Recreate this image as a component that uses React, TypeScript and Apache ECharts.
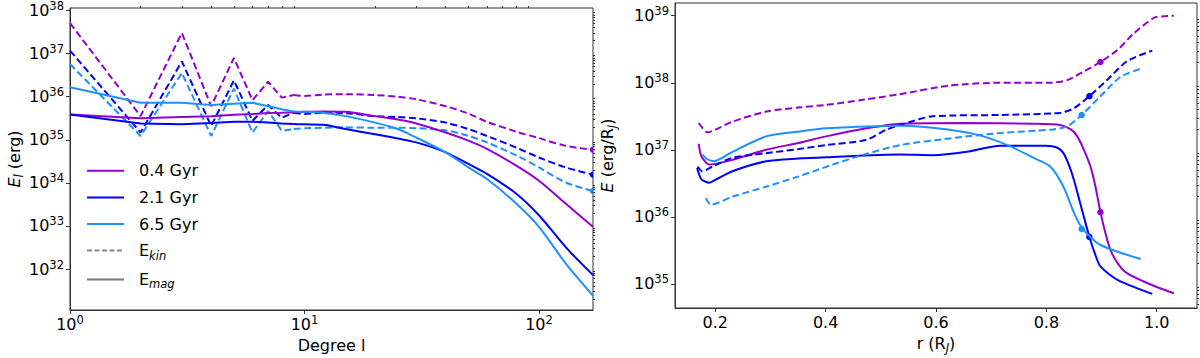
import React, { useEffect, useRef } from 'react';
import * as echarts from 'echarts';

const FONT = 'DejaVu Sans';
const ages = ['0.4 Gyr', '2.1 Gyr', '6.5 Gyr'];
const colors = ['#9400d3', '#0000ff', '#1e90ff'];

// ---- left panel: energy per degree l (values as log10 exponents) ----
const degrees = [1, 2, 3, 4, 5, 6, 7, 8, 9, 10, 12, 15, 20, 25, 30, 40, 50, 60, 80, 100, 130, 170];
const kinL04 = [37.71, 35.55, 37.48, 35.78, 36.90, 35.92, 36.35, 35.98, 36.04, 36.02, 36.05, 36.06, 36.04, 36.00, 35.94, 35.78, 35.61, 35.42, 35.19, 35.04, 34.86, 34.77];
const kinL21 = [37.07, 35.17, 36.82, 35.32, 36.38, 35.44, 35.81, 35.51, 35.63, 35.60, 35.63, 35.62, 35.55, 35.53, 35.50, 35.40, 35.25, 35.09, 34.82, 34.59, 34.36, 34.19];
const kinL65 = [36.76, 35.09, 36.55, 35.09, 36.19, 35.17, 35.67, 35.21, 35.25, 35.27, 35.28, 35.29, 35.28, 35.28, 35.27, 35.22, 35.09, 34.94, 34.64, 34.36, 34.01, 33.81];
const magL04 = [35.59, 35.50, 35.53, 35.55, 35.58, 35.60, 35.62, 35.63, 35.64, 35.65, 35.66, 35.65, 35.55, 35.47, 35.38, 35.17, 34.98, 34.79, 34.40, 34.05, 33.52, 32.98];
const magL21 = [35.59, 35.38, 35.36, 35.39, 35.42, 35.42, 35.40, 35.38, 35.37, 35.36, 35.35, 35.25, 35.13, 35.03, 34.94, 34.71, 34.44, 34.21, 33.75, 33.25, 32.51, 31.86];
const magL65 = [36.22, 35.86, 35.86, 35.81, 35.84, 35.86, 35.78, 35.71, 35.66, 35.65, 35.63, 35.55, 35.40, 35.25, 35.05, 34.71, 34.36, 34.09, 33.52, 32.98, 32.13, 31.38];

// ---- right panel: energy per radius r (r, log10 exponent) ----
const kinR04 = [[0.17, 37.40], [0.186, 37.26], [0.20, 37.30], [0.231, 37.42], [0.292, 37.57], [0.35, 37.63], [0.401, 37.67], [0.47, 37.75], [0.535, 37.83], [0.625, 37.96], [0.716, 38.0], [0.807, 38.0], [0.838, 38.04], [0.868, 38.17], [0.898, 38.31], [0.929, 38.49], [0.959, 38.74], [0.995, 38.97], [1.01, 38.99], [1.031, 39.0]];
const kinR21 = [[0.168, 36.75], [0.176, 36.68], [0.195, 36.75], [0.231, 36.88], [0.292, 36.95], [0.35, 37.01], [0.401, 37.07], [0.474, 37.15], [0.51, 37.30], [0.535, 37.37], [0.594, 37.50], [0.716, 37.52], [0.825, 37.55], [0.85, 37.62], [0.878, 37.80], [0.91, 38.04], [0.946, 38.32], [0.992, 38.48]];
const kinR65 = [[0.183, 36.28], [0.192, 36.18], [0.231, 36.30], [0.292, 36.45], [0.35, 36.60], [0.413, 36.78], [0.47, 36.93], [0.535, 37.07], [0.625, 37.17], [0.716, 37.25], [0.807, 37.30], [0.838, 37.35], [0.864, 37.52], [0.898, 37.80], [0.935, 38.09], [0.971, 38.21]];
const magR04 = [[0.17, 37.09], [0.175, 36.90], [0.189, 36.78], [0.2, 36.79], [0.231, 36.85], [0.292, 37.0], [0.35, 37.10], [0.401, 37.20], [0.474, 37.32], [0.535, 37.39], [0.656, 37.40], [0.777, 37.39], [0.825, 37.37], [0.845, 37.30], [0.856, 37.20], [0.868, 37.0], [0.88, 36.75], [0.889, 36.45], [0.898, 36.07], [0.907, 35.76], [0.916, 35.51], [0.929, 35.31], [0.946, 35.16], [0.989, 34.99], [1.031, 34.86]];
const magR21 = [[0.167, 36.73], [0.175, 36.56], [0.189, 36.51], [0.2, 36.55], [0.231, 36.68], [0.292, 36.83], [0.35, 36.87], [0.401, 36.89], [0.535, 36.93], [0.594, 36.92], [0.656, 36.97], [0.716, 37.06], [0.8, 37.06], [0.82, 37.03], [0.831, 36.95], [0.842, 36.75], [0.85, 36.55], [0.866, 36.06], [0.878, 35.70], [0.888, 35.45], [0.898, 35.26], [0.929, 35.06], [0.992, 34.85]];
const magR65 = [[0.177, 36.93], [0.185, 36.86], [0.198, 36.83], [0.231, 36.97], [0.292, 37.20], [0.35, 37.27], [0.401, 37.32], [0.535, 37.36], [0.625, 37.30], [0.686, 37.20], [0.735, 37.05], [0.777, 36.88], [0.807, 36.75], [0.831, 36.45], [0.85, 36.06], [0.866, 35.82], [0.898, 35.58], [0.971, 35.37]];

// marked points on the right panel
const dotR = [0.898, 0.878, 0.864];
const dotKinExp = [38.31, 37.80, 37.52];
const dotMagExp = [36.07, 35.70, 35.82];

// tick labels
const leftXTicks = [1, 10, 100];
const leftYTicksExp = [32, 33, 34, 35, 36, 37, 38];
const rightXTicks = [0.2, 0.4, 0.6, 0.8, 1.0];
const rightYTicksExp = [35, 36, 37, 38, 39];

const kinLeft = [kinL04, kinL21, kinL65];
const magLeft = [magL04, magL21, magL65];
const kinRight = [kinR04, kinR21, kinR65];
const magRight = [magR04, magR21, magR65];

// index where the low-degree zig-zag part ends (l = 9)
const SPLIT = 8;

const p10 = (e: number) => Math.pow(10, e);
const minorList = (e0: number, e1: number) => {
  const out: number[] = [];
  for (let e = e0; e <= e1; e++) for (let m = 2; m <= 9; m++) out.push(m * Math.pow(10, e));
  return out;
};

const supLabel = (v: number) => {
  const e = Math.log10(v);
  const r = Math.round(e);
  if (Math.abs(e - r) > 1e-6) return '';
  return `{b|10}{s|${r}}`;
};
const supRich = {
  b: { fontSize: 16, fontFamily: FONT, color: '#000', lineHeight: 21 },
  s: { fontSize: 11.5, fontFamily: FONT, color: '#000', lineHeight: 9, verticalAlign: 'top' },
};
const nameRich = {
  i: { fontSize: 16, fontFamily: FONT, color: '#000', fontStyle: 'italic', lineHeight: 22 },
  n: { fontSize: 16, fontFamily: FONT, color: '#000', lineHeight: 22 },
  sub: { fontSize: 11.5, fontFamily: FONT, color: '#000', fontStyle: 'italic', lineHeight: 12, verticalAlign: 'bottom' },
};

const AX = '#333';
const DASH = [7, 3.5];

function buildOption() {
  const frame = { show: true, borderColor: AX, borderWidth: 1, backgroundColor: 'transparent', outerBoundsMode: 'none', containLabel: false };
  const mainAxisCommon = {
    axisLine: { show: true, lineStyle: { color: AX, width: 1 } },
    splitLine: { show: false },
  };
  const minorAxis = (gridIndex: number, type: string, min: number, max: number, values: number[]) => ({
    gridIndex, type, min, max, logBase: 10,
    axisLine: { show: false },
    axisLabel: { show: false },
    splitLine: { show: false },
    axisTick: { show: true, length: 2, lineStyle: { color: AX }, customValues: values },
  });
  const hiddenSym = { opacity: 0 };

  const series: any[] = [];
  const leftLine = (name: string, exps: number[], color: string, dashed: boolean) => {
    const pts = degrees.map((d, k) => [d, p10(exps[k])]);
    const ls: any = { color, width: 2 };
    if (dashed) ls.type = DASH;
    series.push({
      name, type: 'line', xAxisIndex: 0, yAxisIndex: 0, symbol: 'none',
      data: pts.slice(0, SPLIT + 1), lineStyle: ls, itemStyle: { color, ...hiddenSym },
    });
    series.push({
      name: name + ' tail', type: 'line', xAxisIndex: 0, yAxisIndex: 0, symbol: 'none', smooth: 0.3,
      data: pts.slice(SPLIT), lineStyle: ls, itemStyle: { color, ...hiddenSym },
    });
  };
  ages.forEach((age, i) => leftLine(`${age} kin L`, kinLeft[i], colors[i], true));
  ages.forEach((age, i) => leftLine(age, magLeft[i], colors[i], false));
  series.push({
    name: 'end markers', type: 'custom', xAxisIndex: 0, yAxisIndex: 0, clip: true,
    data: ages.map((_, i) => [degrees[degrees.length - 1], p10(kinLeft[i][kinLeft[i].length - 1]), i]),
    renderItem: (params: any, api: any) => {
      const p = api.coord([api.value(0), api.value(1)]);
      return { type: 'circle', shape: { cx: p[0], cy: p[1], r: 3.2 }, style: { fill: colors[api.value(2)] } };
    },
  });
  ages.forEach((age, i) => {
    series.push({
      name: `${age} kin R`, type: 'line', xAxisIndex: 2, yAxisIndex: 2, symbol: 'none', smooth: 0.25,
      data: kinRight[i].map(([r, e]) => [r, p10(e)]),
      lineStyle: { color: colors[i], width: 2, type: DASH }, itemStyle: { color: colors[i], ...hiddenSym },
    });
    series.push({
      name: `${age} mag R`, type: 'line', xAxisIndex: 2, yAxisIndex: 2, symbol: 'none', smooth: 0.25,
      data: magRight[i].map(([r, e]) => [r, p10(e)]),
      lineStyle: { color: colors[i], width: 2 }, itemStyle: { color: colors[i], ...hiddenSym },
    });
    series.push({
      name: `${age} dots`, type: 'scatter', xAxisIndex: 2, yAxisIndex: 2, symbolSize: 6.5,
      data: [[dotR[i], p10(dotKinExp[i])], [dotR[i], p10(dotMagExp[i])]],
      itemStyle: { color: colors[i], opacity: 1 },
    });
  });
  series.push({
    name: 'Ekin', type: 'line', xAxisIndex: 0, yAxisIndex: 0, symbol: 'none', data: [],
    lineStyle: { color: '#888', width: 1.5, type: [5, 2.5] }, itemStyle: { color: '#888', ...hiddenSym },
  });
  series.push({
    name: 'Emag', type: 'line', xAxisIndex: 0, yAxisIndex: 0, symbol: 'none', data: [],
    lineStyle: { color: '#777', width: 1.5 }, itemStyle: { color: '#777', ...hiddenSym },
  });

  return {
    animation: false,
    textStyle: { fontFamily: FONT },
    grid: [
      { left: 70, top: 8, width: 523, height: 302, ...frame },
      { left: 675, top: 3, width: 522, height: 305, ...frame },
    ],
    legend: {
      data: [...ages, 'Ekin', 'Emag'],
      orient: 'vertical', left: 86, top: 162, padding: 0,
      itemWidth: 37, itemHeight: 22, itemGap: 9, selectedMode: false,
      itemStyle: { opacity: 0 },
      formatter: (name: string) =>
        name === 'Ekin' ? '{n|E}{sub|kin}' : name === 'Emag' ? '{n|E}{sub|mag}' : `{n|${name}}`,
      textStyle: {
        fontSize: 16, fontFamily: FONT, color: '#000', padding: [0, 0, 0, 10],
        rich: {
          n: { fontSize: 16, fontFamily: FONT, color: '#000', lineHeight: 22 },
          sub: { fontSize: 11.5, fontFamily: FONT, color: '#000', fontStyle: 'italic', lineHeight: 12, verticalAlign: 'bottom' },
        },
      },
    },
    xAxis: [
      {
        gridIndex: 0, type: 'log', logBase: 10, min: 1, max: 170, ...mainAxisCommon,
        axisTick: { show: true, length: 4, lineStyle: { color: AX }, customValues: leftXTicks },
        axisLabel: { customValues: leftXTicks, formatter: supLabel, rich: supRich, margin: 4 },
        name: 'Degree l', nameLocation: 'middle', nameGap: 27,
        nameTextStyle: { fontSize: 16, fontFamily: FONT, color: '#000' },
      },
      minorAxis(0, 'log', 1, 170, [2, 3, 4, 5, 6, 7, 8, 9, 20, 30, 40, 50, 60, 70, 80, 90]),
      {
        gridIndex: 1, type: 'value', min: 0.127, max: 1.073, ...mainAxisCommon,
        axisTick: { show: true, length: 4, lineStyle: { color: AX }, customValues: rightXTicks },
        axisLabel: {
          customValues: rightXTicks, formatter: (v: number) => v.toFixed(1), margin: 6,
          fontSize: 16, fontFamily: FONT, color: '#000',
        },
        name: '{n|r (R}{sub|J}{n|)}', nameLocation: 'middle', nameGap: 24,
        nameTextStyle: { fontSize: 16, fontFamily: FONT, color: '#000', rich: nameRich },
      },
    ],
    yAxis: [
      {
        gridIndex: 0, type: 'log', logBase: 10, min: p10(31.05), max: p10(38.06), ...mainAxisCommon,
        axisTick: { show: true, length: 4, lineStyle: { color: AX }, customValues: leftYTicksExp.map(p10) },
        axisLabel: { customValues: leftYTicksExp.map(p10), formatter: supLabel, rich: supRich, margin: 6 },
        name: '{i|E}{sub|l}{n| (erg)}', nameLocation: 'middle', nameGap: 45, nameRotate: 90,
        nameTextStyle: { fontSize: 16, fontFamily: FONT, color: '#000', rich: nameRich },
      },
      minorAxis(0, 'log', p10(31.05), p10(38.06), minorList(31, 37)),
      {
        gridIndex: 1, type: 'log', logBase: 10, min: p10(34.64), max: p10(39.19), ...mainAxisCommon,
        axisTick: { show: true, length: 4, lineStyle: { color: AX }, customValues: rightYTicksExp.map(p10) },
        axisLabel: { customValues: rightYTicksExp.map(p10), formatter: supLabel, rich: supRich, margin: 6 },
        name: '{i|E}{n| (erg/R}{sub|J}{n|)}', nameLocation: 'middle', nameGap: 57, nameRotate: 90,
        nameTextStyle: { fontSize: 16, fontFamily: FONT, color: '#000', rich: nameRich },
      },
      minorAxis(1, 'log', p10(34.64), p10(39.19), minorList(34, 38)),
    ],
    series,
  };
}

export default function App() {
  const ref = useRef<HTMLDivElement>(null);
  useEffect(() => {
    if (!ref.current) return;
    const chart = echarts.init(ref.current, null, { renderer: 'svg' });
    chart.setOption(buildOption() as any);
    return () => chart.dispose();
  }, []);
  return (
    <div
      ref={ref}
      style={{ position: 'fixed', left: 0, top: 0, width: 1200, height: 358, background: '#fff' }}
    />
  );
}
